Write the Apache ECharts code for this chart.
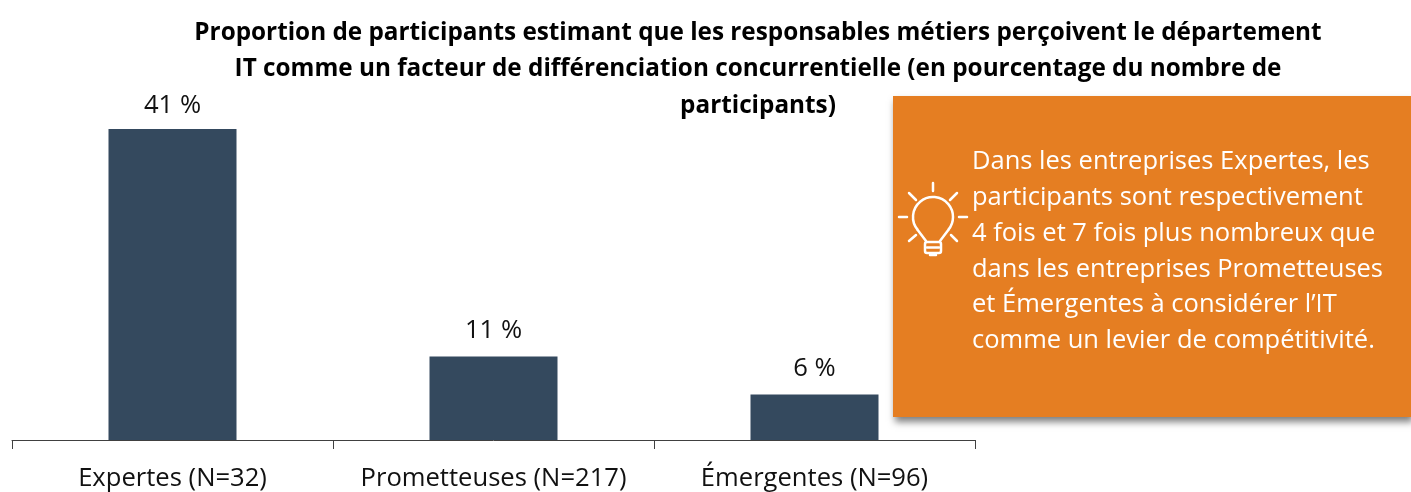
<!DOCTYPE html>
<html><head><meta charset="utf-8">
<style>html,body{margin:0;padding:0;background:#fff}#c{width:1411px;height:492px}</style>
<script src="https://cdn.jsdelivr.net/npm/echarts@6/dist/echarts.min.js"></script></head>
<body><div id="c"></div>
<script>
const categories=["Expertes (N=32)","Prometteuses (N=217)","Émergentes (N=96)"];
const values=[41,11,6];
const titleLines=["Proportion de participants estimant que les responsables métiers perçoivent le département","IT comme un facteur de différenciation concurrentielle (en pourcentage du nombre de","participants)"];
const calloutLines=["Dans les entreprises Expertes, les","participants sont respectivement","4 fois et 7 fois plus nombreux que","dans les entreprises Prometteuses","et Émergentes à considérer l’IT","comme un levier de compétitivité."];
const font='"Open Sans"';
const chart=echarts.init(document.getElementById('c'),null,{renderer:'canvas'});
const white='#fff';
const orange='#e57e22';
const ray=(x1,y1,x2,y2)=>({type:'line',z:10,shape:{x1,y1,x2,y2},style:{stroke:white,lineWidth:2.5,lineCap:'round'}});
chart.setOption({
 animation:false,
 grid:{left:12,right:436,top:129,bottom:51},
 xAxis:{type:'category',data:categories,axisTick:{show:true,length:9,interval:0,lineStyle:{color:'#404040'}},axisLine:{lineStyle:{color:'#404040',width:1}},axisLabel:{color:'#111',fontFamily:font,fontSize:25.6,margin:26,interval:0,hideOverlap:false}},
 yAxis:{type:'value',min:0,max:41,show:false},
 series:[{type:'bar',data:values,barWidth:128,itemStyle:{color:'#34495e'},label:{show:true,position:'top',distance:10,color:'#111',fontFamily:font,fontSize:25.6,formatter:p=>p.value+' %'},labelLayout:p=>({dy:p.dataIndex===0?0:-3})}],
 graphic:[
  {type:'text',z:10,style:{text:titleLines.join('\n'),x:758,y:15,textAlign:'center',font:'bold 24.3px '+font,lineHeight:36.3,fill:'#000'}},
  {type:'rect',z:5,shape:{x:893,y:96,width:518,height:321},style:{fill:orange,shadowBlur:7,shadowColor:'rgba(0,0,0,0.5)',shadowOffsetX:2,shadowOffsetY:5}},
  {type:'text',z:10,style:{text:calloutLines.join('\n'),x:972,y:144,font:'25.5px '+font,lineHeight:35.8,fill:white}},
  {type:'group',z:10,children:[
   {type:'arc',z:10,shape:{cx:933,cy:217,r:20,startAngle:140*Math.PI/180,endAngle:400*Math.PI/180,clockwise:true},style:{fill:null,stroke:white,lineWidth:2.5}},
   ray(917.7,229.9,926,241),
   ray(948.3,229.9,940,241),
   ray(933,183,933,191),
   ray(909,193,916,200),
   ray(957,193,950,200),
   ray(899,217,907,217),
   ray(959,217,967,217),
   ray(909,241,916,235),
   ray(957,241,951,235),
   {type:'rect',z:10,shape:{x:925,y:242,width:16,height:11,r:2},style:{fill:orange,stroke:white,lineWidth:2.5}},
   ray(927,247.5,939,247.5),
   ray(930,255,936,255)
  ]}
 ]
});
</script></body></html>
